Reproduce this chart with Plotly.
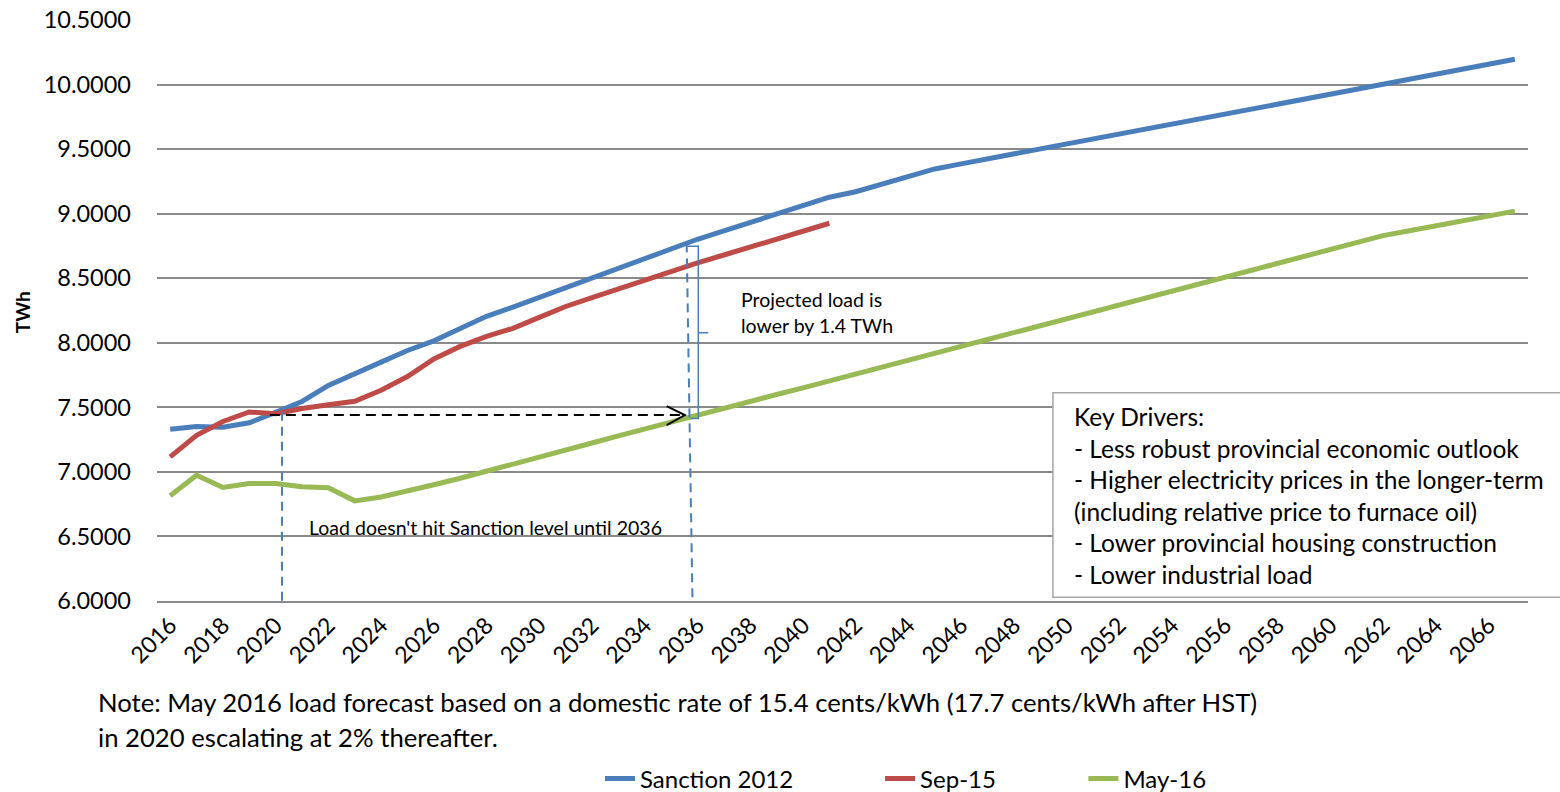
import plotly.graph_objects as go

# ---------------- data ----------------
years = list(range(2016, 2068))

sanction_2012 = [7.330, 7.352, 7.345, 7.380, 7.460, 7.545, 7.670, 7.755, 7.850, 7.940,
                 8.015, 8.110, 8.205, 8.276, 8.352, 8.427, 8.503, 8.580, 8.655, 8.731,
                 8.802, 8.867, 8.932, 8.998, 9.063, 9.128, 9.170, 9.231, 9.293, 9.347,
                 9.386, 9.424, 9.463, 9.501, 9.540, 9.579, 9.617, 9.656, 9.694, 9.733,
                 9.772, 9.810, 9.849, 9.887, 9.926, 9.965, 10.003, 10.042, 10.080, 10.119,
                 10.158, 10.197]

sep_15 = [7.116, 7.283, 7.390, 7.464, 7.450, 7.490, 7.520, 7.546, 7.632, 7.738,
          7.875, 7.972, 8.050, 8.112, 8.197, 8.281, 8.349, 8.418, 8.486, 8.554,
          8.619, 8.680, 8.741, 8.802, 8.864, 8.926]

may_16 = [6.814, 6.974, 6.879, 6.910, 6.910, 6.884, 6.876, 6.775, 6.805, 6.850,
          6.900, 6.950, 7.003, 7.058, 7.113, 7.168, 7.223, 7.278, 7.333, 7.388,
          7.443, 7.495, 7.547, 7.599, 7.651, 7.703, 7.757, 7.811, 7.864, 7.918,
          7.972, 8.025, 8.079, 8.133, 8.186, 8.240, 8.294, 8.347, 8.401, 8.455,
          8.508, 8.562, 8.616, 8.669, 8.723, 8.777, 8.830, 8.868, 8.906, 8.944,
          8.982, 9.020]

series_names = ["Sanction 2012", "Sep-15", "May-16"]
x_tick_labels = [str(y) for y in range(2016, 2067, 2)]
y_ticks = [6.0, 6.5, 7.0, 7.5, 8.0, 8.5, 9.0, 9.5, 10.0, 10.5]

key_driver_lines = [
    "Key Drivers:",
    "- Less robust provincial economic outlook",
    "- Higher electricity prices in the longer-term",
    "(including relative price to furnace oil)",
    "- Lower provincial housing construction",
    "- Lower industrial load",
]
note_lines = [
    "Note: May 2016 load forecast based on a domestic rate of 15.4 cents/kWh (17.7 cents/kWh after HST)",
    "in 2020 escalating at 2% thereafter.",
]

# ---------------- style ----------------
FONT = "Lato"
BLUE = "#4A7EBB"
RED = "#BE4B48"
GREEN = "#98B954"
GRID = "#8A8A8A"

fig = go.Figure()
legend_ids = ["legend", "legend2", "legend3"]
for name, vals, col, lg in zip(series_names, [sanction_2012, sep_15, may_16],
                               [BLUE, RED, GREEN], legend_ids):
    fig.add_trace(go.Scatter(x=years[:len(vals)], y=vals, name=name, mode="lines",
                             line=dict(color=col, width=5), legend=lg))

shapes = []
# horizontal dashed arrow
shapes.append(dict(type="line", xref="x", yref="y", x0=2019.78, x1=2035.50, y0=7.44, y1=7.44,
                   line=dict(color="black", width=2, dash="10px,6px")))
shapes.append(dict(type="path", xref="x", yref="y",
                   path="M 2034.83,7.509 L 2035.52,7.44 L 2034.83,7.362",
                   line=dict(color="black", width=2)))
# vertical dashed blue lines
shapes.append(dict(type="line", xref="x", yref="y", x0=2020.24, x1=2020.24, y0=6.0, y1=7.47,
                   line=dict(color=BLUE, width=2, dash="9px,6px")))
shapes.append(dict(type="line", xref="x", yref="y", x0=2035.59, x1=2035.81, y0=8.77, y1=6.0,
                   line=dict(color=BLUE, width=2, dash="9px,6px")))
# bracket
shapes.append(dict(type="path", xref="x", yref="y",
                   path="M 2035.61,8.748 L 2036.03,8.748 L 2036.03,7.414 L 2035.74,7.414 "
                        "M 2036.03,8.077 L 2036.41,8.077",
                   line=dict(color=BLUE, width=1.5)))
# Key drivers box
shapes.append(dict(type="rect", xref="paper", yref="paper", x0=0.6535, x1=1.06, y0=0.0064, y1=0.3585,
                   fillcolor="white", line=dict(color="#A6A6A6", width=1.5), layer="above"))

annotations = []
annotations.append(dict(text="TWh", xref="paper", yref="paper", x=-0.0985, y=0.497,
                        textangle=-90, showarrow=False, xanchor="center", yanchor="middle",
                        font=dict(family=FONT, size=19, color="black", weight="bold")))
annotations.append(dict(text="Load doesn't hit Sanction level until 2036", xref="x", yref="y",
                        x=2021.19, y=6.565, showarrow=False, xanchor="left", yanchor="middle",
                        font=dict(family=FONT, size=19.5, color="black")))
annotations.append(dict(text="Projected load is", xref="x", yref="y", x=2037.57, y=8.335,
                        showarrow=False, xanchor="left", yanchor="middle",
                        font=dict(family=FONT, size=19.5, color="black")))
annotations.append(dict(text="lower by 1.4 TWh", xref="x", yref="y", x=2037.57, y=8.135,
                        showarrow=False, xanchor="left", yanchor="middle",
                        font=dict(family=FONT, size=19.5, color="black")))
kd_y = [0.3178, 0.2633, 0.2088, 0.1543, 0.0999, 0.0454]
for txt, yy in zip(key_driver_lines, kd_y):
    annotations.append(dict(text=txt, xref="paper", yref="paper", x=0.6674, y=yy,
                            showarrow=False, xanchor="left", yanchor="middle",
                            font=dict(family=FONT, size=24.5, color="black")))
for txt, yy in zip(note_lines, [-0.1738, -0.2349]):
    annotations.append(dict(text=txt, xref="paper", yref="paper", x=-0.0445, y=yy,
                            showarrow=False, xanchor="left", yanchor="middle",
                            font=dict(family=FONT, size=25.7, color="black")))

legend_style = dict(orientation="h", xanchor="left", y=-0.3064, yanchor="middle",
                    font=dict(family=FONT, size=24, color="black"),
                    bgcolor="rgba(0,0,0,0)", borderwidth=0)

fig.update_layout(
    width=1560, height=792,
    margin=dict(l=157, r=32, t=20, b=191, autoexpand=False),
    paper_bgcolor="white", plot_bgcolor="white",
    font=dict(family=FONT, color="black"),
    showlegend=True,
    legend=dict(x=0.3231, **legend_style),
    legend2=dict(x=0.5274, **legend_style),
    legend3=dict(x=0.6757, **legend_style),
    xaxis=dict(range=[2015.5, 2067.5], tickmode="array",
               tickvals=[int(t) for t in x_tick_labels], ticktext=x_tick_labels,
               tickangle=-45, showgrid=False, zeroline=False, showline=True,
               linecolor=GRID, linewidth=1.5, ticks="",
               tickfont=dict(family=FONT, size=23, color="black")),
    yaxis=dict(range=[5.999, 10.501], tickmode="array", tickvals=y_ticks,
               ticktext=[f"{v:.4f}" for v in y_ticks], showgrid=True, gridcolor=GRID,
               gridwidth=1.5, zeroline=False, showline=False, ticks="",
               ticklabelstandoff=25,
               tickfont=dict(family=FONT, size=23.5, color="black")),
    shapes=shapes,
    annotations=annotations,
)

fig.write_html("out.html", config={"displayModeBar": False},
               post_script="document.body.style.margin='0px';document.body.style.padding='0px';")
